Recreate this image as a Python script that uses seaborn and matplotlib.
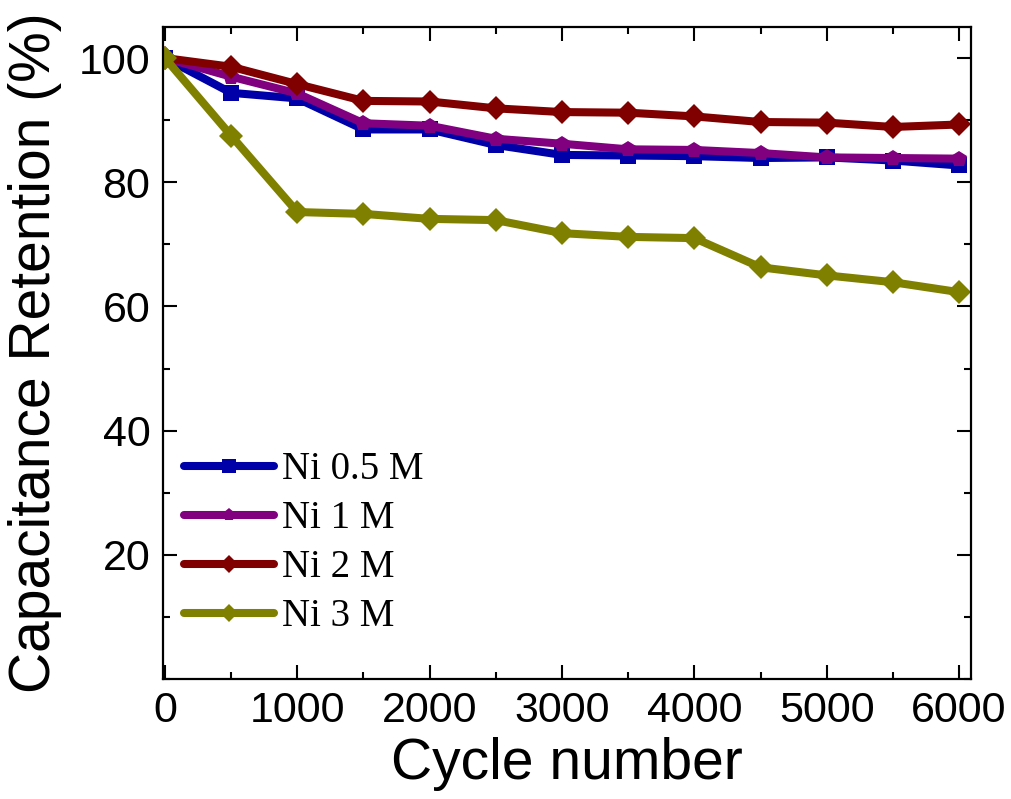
import numpy as np
import pandas as pd
import matplotlib
matplotlib.use("Agg")
import matplotlib.pyplot as plt
import seaborn as sns
from matplotlib.ticker import MultipleLocator

cycles = [0, 500, 1000, 1500, 2000, 2500, 3000, 3500, 4000, 4500, 5000, 5500, 6000]
ni_05 = [100, 94.4, 93.5, 88.5, 88.5, 86.0, 84.4, 84.3, 84.2, 83.9, 84.0, 83.5, 82.7]
ni_1 = [100, 97.0, 94.3, 89.5, 89.1, 87.0, 86.2, 85.3, 85.2, 84.7, 84.0, 83.9, 83.8]
ni_2 = [100, 98.6, 95.8, 93.1, 93.0, 91.9, 91.3, 91.2, 90.6, 89.7, 89.6, 88.9, 89.3]
ni_3 = [100, 87.5, 75.2, 74.9, 74.1, 73.9, 71.8, 71.2, 71.0, 66.3, 65.0, 63.9, 62.3]
labels = ["Ni 0.5 M", "Ni 1 M", "Ni 2 M", "Ni 3 M"]
colors = ["#0000A8", "#800080", "#800000", "#808000"]
markers = ["s", "p", "D", "D"]

frames = []
for lab, vals in zip(labels, [ni_05, ni_1, ni_2, ni_3]):
    frames.append(pd.DataFrame({"cycle": cycles, "ret": vals, "series": lab}))
df = pd.concat(frames, ignore_index=True)

sns.set_theme(style="ticks")
sans = ["Liberation Sans", "DejaVu Sans"]
plt.rcParams["font.family"] = sans
plt.rcParams["text.color"] = "black"
plt.rcParams["axes.labelcolor"] = "black"

fig = plt.figure(figsize=(10.11, 7.99), dpi=100)
ax = fig.add_axes([0.1612, 0.1502, 0.7992, 0.8160])

sns.lineplot(data=df, x="cycle", y="ret", hue="series", style="series",
             hue_order=labels, style_order=labels,
             palette=dict(zip(labels, colors)),
             markers=dict(zip(labels, markers)), dashes=False,
             linewidth=5.8, markersize=12, markeredgewidth=0,
             ax=ax)

ax.set_xlim(-15, 6090)
ax.set_ylim(0, 105)
ax.xaxis.set_major_locator(MultipleLocator(1000))
ax.xaxis.set_minor_locator(MultipleLocator(500))
ax.set_yticks([20, 40, 60, 80, 100])
ax.yaxis.set_minor_locator(MultipleLocator(10))
ax.tick_params(which="both", direction="in", top=True, right=True, width=1.5,
               colors="black", labelcolor="black")
ax.tick_params(which="major", length=10, labelsize=31, pad=9)
ax.tick_params(which="minor", length=5)
for s in ax.spines.values():
    s.set_linewidth(1.6)
    s.set_color("black")

ax.set_xlabel("Cycle number", fontsize=41, labelpad=4, color="black")
ax.set_ylabel("Capacitance Retention (%)", fontsize=41, labelpad=12, color="black")

handles, _ = ax.get_legend_handles_labels()
leg = ax.legend(handles=handles, labels=labels, loc="lower left",
                bbox_to_anchor=(0.0, 0.034), frameon=False,
                prop={"family": ["Liberation Serif", "DejaVu Serif"], "size": 28},
                handlelength=2.3, handletextpad=0.2, labelspacing=0.31,
                markerscale=0.8, borderaxespad=0.15)
for t in leg.get_texts():
    t.set_color("black")

fig.savefig("out.png", dpi=100)
